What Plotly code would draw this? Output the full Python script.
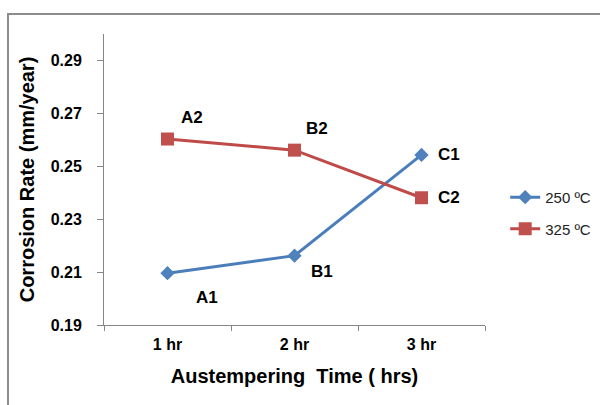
import plotly.graph_objects as go

categories = ["1 hr", "2 hr", "3 hr"]
series_250 = [0.2096, 0.2162, 0.2543]
series_325 = [0.2603, 0.2561, 0.2381]
labels_250 = ["A1", "B1", "C1"]
labels_325 = ["A2", "B2", "C2"]
y_ticks = [0.19, 0.21, 0.23, 0.25, 0.27, 0.29]

blue = "#4A7EBB"
red = "#BE4B48"
grey = "#868686"
font_b = "Liberation Sans, Arial, sans-serif"

fig = go.Figure()
fig.add_trace(go.Scatter(
    x=categories, y=series_250, name="250 ºC", mode="lines+markers",
    line=dict(color=blue, width=3),
    marker=dict(symbol="diamond", size=11, color="#4F81BD"),
    legendgroup="g1",
))
fig.add_trace(go.Scatter(
    x=categories, y=series_325, name="325 ºC", mode="lines+markers",
    line=dict(color=red, width=3),
    marker=dict(symbol="square", size=13, color="#C0504D"),
    legendgroup="g2",
))

shifts_250 = [(39, -24), (27, -16), (27, 0)]
shifts_325 = [(24, 22), (22, 22), (27, 0)]
for cat, val, lab, (dx, dy) in zip(categories, series_250, labels_250, shifts_250):
    fig.add_annotation(x=cat, y=val, text=lab, showarrow=False, xshift=dx, yshift=dy,
                       font=dict(family=font_b, size=17, color="black", weight="bold"))
for cat, val, lab, (dx, dy) in zip(categories, series_325, labels_325, shifts_325):
    fig.add_annotation(x=cat, y=val, text=lab, showarrow=False, xshift=dx, yshift=dy,
                       font=dict(family=font_b, size=17, color="black", weight="bold"))

fig.add_shape(type="rect", xref="paper", yref="paper",
              x0=-0.252, x1=1.36, y0=-0.33, y1=1.0687,
              line=dict(color="#8C8C8C", width=2), layer="below")

fig.update_layout(
    width=600, height=405,
    margin=dict(l=104, r=115, t=34, b=80, autoexpand=False),
    paper_bgcolor="white", plot_bgcolor="white",
    showlegend=True,
    legend=dict(x=1.053, xanchor="left", y=0.385, yanchor="middle",
                xref="paper", yref="paper",
                font=dict(family=font_b, size=15, color="#222"),
                tracegroupgap=9, bgcolor="rgba(0,0,0,0)"),
    xaxis=dict(
        type="category", range=[-0.5, 2.5],
        showline=True, linecolor=grey, linewidth=1,
        ticks="outside", ticklen=5, tickcolor=grey, tickson="boundaries",
        showgrid=False, zeroline=False,
        tickfont=dict(family=font_b, size=16, color="black", weight="bold"),
        ticklabelstandoff=5,
        title=dict(text="Austempering  Time ( hrs)", standoff=16,
                   font=dict(family=font_b, size=20, color="black", weight="bold")),
    ),
    yaxis=dict(
        range=[0.19, 0.30], tickvals=y_ticks, ticktext=[f"{v:.2f}" for v in y_ticks],
        showline=True, linecolor=grey, linewidth=1,
        ticks="outside", ticklen=6, tickcolor=grey,
        showgrid=False, zeroline=False,
        tickfont=dict(family=font_b, size=16, color="black", weight="bold"),
        ticklabelstandoff=12,
        title=dict(text="Corrosion Rate (mm/year)", standoff=10,
                   font=dict(family=font_b, size=20, color="black", weight="bold")),
    ),
)

fig.write_html("out.html")
